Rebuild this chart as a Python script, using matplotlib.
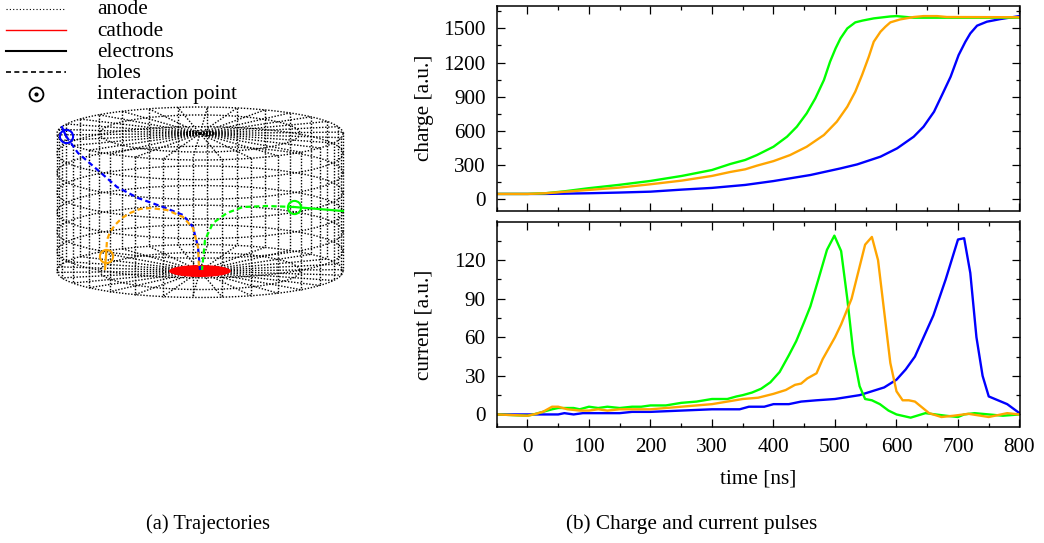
#!/usr/bin/env python

import numpy as np
import matplotlib
matplotlib.use('Agg')
import matplotlib.pyplot as plt
from matplotlib.patches import Ellipse

W, H = 1044, 543

plt.rcParams['font.family'] = ['Liberation Serif', 'DejaVu Serif']
plt.rcParams['font.size'] = 15.3

# charge pulses, (time, value)
charge_green_t = [-50, 0, 29, 60, 99, 148, 200, 251, 300, 330, 354, 373, 400, 422, 438, 454, 468, 482, 492, 501, 509, 520, 533, 545, 563, 590, 600, 628, 800]
charge_green = [47, 47, 53, 70, 97, 126, 161, 205, 257, 310, 345, 388, 461, 549, 637, 754, 885, 1046, 1207, 1324, 1412, 1499, 1552, 1568, 1587, 1604, 1607, 1593, 1593]
charge_orange_t = [-50, 0, 29, 60, 99, 148, 200, 251, 300, 330, 354, 373, 400, 427, 454, 482, 503, 520, 533, 544, 555, 563, 574, 582, 590, 606, 628, 644, 666, 682, 800]
charge_orange = [47, 47, 53, 66, 82, 102, 132, 164, 205, 240, 263, 295, 335, 388, 461, 564, 681, 812, 944, 1090, 1251, 1382, 1470, 1514, 1552, 1578, 1599, 1607, 1607, 1599, 1597]
charge_blue_t = [-50, 0, 29, 99, 148, 200, 251, 300, 354, 400, 460, 509, 536, 574, 601, 628, 644, 661, 674, 688, 701, 712, 720, 731, 747, 769, 800]
charge_blue = [47, 47, 47, 53, 59, 67, 85, 100, 126, 160, 213, 271, 306, 374, 447, 549, 637, 768, 915, 1075, 1265, 1382, 1455, 1523, 1558, 1581, 1607]

# current pulses
current_green_t = [-50, 0, 10, 25, 40, 50, 65, 75, 85, 100, 115, 130, 150, 170, 185, 200, 225, 250, 275, 300, 325, 340, 350, 365, 380, 395, 410, 425, 437, 450, 460, 473, 487, 499, 510, 520, 530, 540, 549, 560, 573, 587, 600, 623, 647, 680, 700, 710, 727, 750, 773, 800]
current_green = [0, -1, 0, 2, 4, 5, 5, 5, 4, 6, 5, 6, 5, 6, 6, 7, 7, 9, 10, 12, 12, 14, 15, 17, 20, 25, 33, 46, 57, 72, 84, 105, 128, 139, 127, 90, 47, 22, 12, 11, 8, 3, 0, -2.5, 1, -1, -2, 0, 1, 0, -1, 0]
current_orange_t = [-50, 0, 10, 25, 40, 50, 65, 85, 100, 115, 130, 150, 175, 200, 225, 250, 275, 300, 325, 350, 375, 400, 420, 435, 445, 455, 470, 480, 500, 510, 527, 549, 560, 570, 580, 590, 600, 610, 620, 630, 653, 673, 693, 717, 750, 780, 800]
current_orange = [0, -1, 0, 2, 6, 6, 4, 3, 3, 4, 3, 4, 4, 4, 5, 6, 7, 8, 10, 12, 13, 16, 19, 23, 24, 28, 32, 43, 60, 70, 90, 132, 138, 120, 80, 40, 18, 11, 11, 10, 1, -2, -1, 0.5, -2, 1, 0]
current_blue_t = [-50, 50, 60, 75, 90, 100, 150, 170, 200, 250, 300, 345, 360, 385, 400, 425, 445, 470, 500, 540, 560, 580, 600, 615, 630, 660, 680, 700, 710, 720, 730, 740, 750, 770, 780, 800]
current_blue = [0, 0, 1, 0, 1, 1, 1, 2, 2, 3, 4, 4, 6, 6, 8, 8, 10, 11, 12, 15, 18, 21, 27, 35, 45, 77, 105, 136, 137, 110, 60, 30, 14, 10, 8, 1]

# trajectories in picture coordinates: holes dashed, electrons solid
blue_holes_x = [66, 78, 100, 117, 138, 163, 183, 193, 198, 200]
blue_holes_y = [136, 153, 172, 187, 198, 207, 215, 227, 247, 270]
blue_elec_x = [62, 66]
blue_elec_y = [127, 136]
orange_holes_x = [106, 107, 110, 115, 122, 130, 140, 150, 167, 183, 193, 198, 199]
orange_holes_y = [256, 240, 232, 225, 218, 213, 209, 208, 210, 217, 228, 247, 268]
orange_elec_x = [105, 106]
orange_elec_y = [269, 256]
green_holes_x = [294, 267, 243, 227, 213, 205, 202]
green_holes_y = [207, 206, 207, 213, 223, 240, 270]
green_elec_x = [294, 343]
green_elec_y = [207, 211]

legend_labels = ['anode', 'cathode', 'electrons', 'holes', 'interaction point']
GREEN, ORANGE, BLUE = '#00ff00', '#ffa500', '#0000ff'

fig = plt.figure(figsize=(W / 100, H / 100), dpi=100)

# left panel, drawn in picture coordinates
bg = fig.add_axes([0, 0, 1, 1])
bg.set_xlim(0, W)
bg.set_ylim(H, 0)
bg.axis('off')

cx, rx, ry = 200, 143, 26.5
ytop, ybot = 133.5, 271
dots = dict(color='k', lw=1.0, ls=(0, (1.0, 1.2)))

th = np.linspace(0, 2 * np.pi, 200)
for y0 in [ytop, ybot]:
    for r in [0.04, 0.1, 0.7, 1.0]:
        bg.plot(cx + r * rx * np.cos(th), y0 + r * ry * np.sin(th), **dots)
for y0 in np.linspace(ytop, ybot, 8)[1:-1]:
    bg.plot(cx + rx * np.cos(th), y0 + ry * np.sin(th), **dots)
# 30 segments, a little off the front centre, as the grid lines sit in the picture
for a in np.radians(np.arange(30) * 12.0 - 3.0):
    sa, ca = np.sin(a), np.cos(a)
    bg.plot([cx + rx * sa, cx + rx * sa], [ytop + ry * ca, ybot + ry * ca], **dots)
    for y0 in [ytop, ybot]:
        bg.plot([cx, cx + rx * sa], [y0, y0 + ry * ca], **dots)

bg.add_patch(Ellipse((200, 271), 62, 12, fc='#ff0000', ec='none', zorder=3))

for hx, hy, ex, ey, c in [(blue_holes_x, blue_holes_y, blue_elec_x, blue_elec_y, BLUE),
                          (orange_holes_x, orange_holes_y, orange_elec_x, orange_elec_y, ORANGE),
                          (green_holes_x, green_holes_y, green_elec_x, green_elec_y, GREEN)]:
    bg.plot(hx, hy, color=c, lw=1.6, ls=(0, (2.4, 1.5)), zorder=4)
    bg.plot(ex, ey, color=c, lw=1.6, zorder=4)
    bg.plot(hx[0], hy[0], 'o', mfc='none', mec=c, mew=1.5, ms=9.5, zorder=5)

# legend
bg.plot([6, 64], [9, 9], color='k', lw=0.8, ls=(0, (1, 2)))
bg.plot([6, 66], [30, 30], color='#ff0000', lw=1)
bg.plot([6, 66], [51, 51], color='k', lw=1.5)
bg.plot([6, 66], [72, 72], color='k', lw=1.2, ls=(0, (3, 2)))
bg.plot(36, 94, 'o', mfc='none', mec='k', mew=1.3, ms=10)
bg.plot(36, 94, 'o', color='k', ms=2)
for lab, y in zip(legend_labels, [14.5, 35.5, 57, 78, 99]):
    bg.text(97, y, lab, va='baseline', ha='left')

bg.text(208.5, 529, '(a) Trajectories', ha='center', va='baseline', fontsize=14.7)
bg.text(692, 529, '(b) Charge and current pulses', ha='center', va='baseline')


def make_axes(top, bottom):
    left, right = 496.7, 1019.5
    return fig.add_axes([left / W, 1 - bottom / H, (right - left) / W, (bottom - top) / H])


def style(ax):
    ax.set_xlim(-50, 800)
    ax.set_xticks(np.arange(0, 801, 100))
    ax.set_xticks(np.arange(-50, 801, 100), minor=True)
    ax.tick_params(which='major', direction='in', length=6, width=0.9, top=True, right=True, pad=8)
    ax.tick_params(which='minor', direction='in', length=3, width=0.9, top=True, right=True)
    for s in ax.spines.values():
        s.set_linewidth(1.1)


ax1 = make_axes(5.5, 210.7)
ax1.plot(charge_blue_t, charge_blue, color=BLUE, lw=1.7)
ax1.plot(charge_green_t, charge_green, color=GREEN, lw=1.7)
ax1.plot(charge_orange_t, charge_orange, color=ORANGE, lw=1.7)
style(ax1)
ax1.set_ylim(-100, 1700)
ax1.set_yticks(np.arange(0, 1501, 300))
ax1.set_yticks(np.arange(150, 1700, 300), minor=True)
ax1.tick_params(axis='x', which='both', labelbottom=False)
ax1.set_ylabel('charge [a.u.]', va='center')
ax1.yaxis.set_label_coords((424 - 496.7) / 522.8, 0.5)

ax2 = make_axes(221.5, 427.3)
ax2.plot(current_blue_t, current_blue, color=BLUE, lw=1.7)
ax2.plot(current_green_t, current_green, color=GREEN, lw=1.7)
ax2.plot(current_orange_t, current_orange, color=ORANGE, lw=1.7)
style(ax2)
ax2.set_ylim(-10, 150)
ax2.set_yticks(np.arange(0, 121, 30))
ax2.set_yticks(np.arange(15, 150, 30), minor=True)
ax2.set_ylabel('current [a.u.]', va='center')
ax2.yaxis.set_label_coords((424 - 496.7) / 522.8, 0.5)
ax2.set_xlabel('time [ns]', va='center')
ax2.xaxis.set_label_coords(0.5, (427.3 - 479) / 205.8)

fig.savefig('out.png', dpi=100)
